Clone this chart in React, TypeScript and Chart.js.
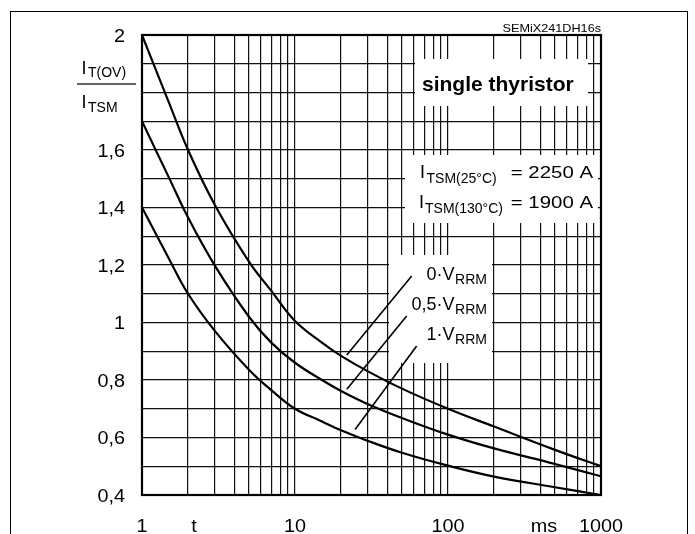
import React, { useEffect, useRef } from 'react';
import { Chart, registerables } from 'chart.js';

Chart.register(...registerables);

// ---- data (t in ms, ratio I_T(OV)/I_TSM) ----
const timeMs = [1, 1.5, 2, 3, 5, 7, 10, 15, 20, 30, 50, 100, 200, 500, 1000];
const ratio0V = [2.0, 1.765, 1.6, 1.408, 1.212, 1.11, 1.005, 0.93, 0.884, 0.83, 0.77, 0.70, 0.638, 0.557, 0.5];
const ratio05V = [1.7, 1.504, 1.365, 1.197, 1.02, 0.93, 0.86, 0.8, 0.762, 0.716, 0.668, 0.61, 0.562, 0.508, 0.465];
const ratio1V = [1.4, 1.222, 1.1, 0.97, 0.836, 0.765, 0.7, 0.656, 0.625, 0.588, 0.547, 0.502, 0.464, 0.427, 0.4];

// leader lines from labels to curves (t, ratio)
const leader0T = [21.8, 57.9];
const leader0V = [0.887, 1.162];
const leader05T = [21.8, 53.7];
const leader05V = [0.768, 1.023];
const leader1T = [24.7, 62.4];
const leader1V = [0.628, 0.918];

// ---- axes ----
const xGridValues = [1, 2, 3, 4, 5, 6, 7, 8, 9, 10, 20, 30, 40, 50, 60, 70, 80, 90, 100, 200, 300, 400, 500, 600, 700, 800, 900, 1000];
const yGridValues = [0.4, 0.5, 0.6, 0.7, 0.8, 0.9, 1.0, 1.1, 1.2, 1.3, 1.4, 1.5, 1.6, 1.7, 1.8, 1.9, 2.0];
const xTickValues = [1, 10, 100, 1000];
const xTickLabels = ['1', '10', '100', '1000'];
const yTickValues = [0.4, 0.6, 0.8, 1.0, 1.2, 1.4, 1.6, 2.0];
const yTickLabels = ['0,4', '0,6', '0,8', '1', '1,2', '1,4', '1,6', '2'];

const FONT = '"Liberation Sans", Arial, Helvetica, sans-serif';

function pts(t: number[], v: number[]) {
  return t.map((x, i) => ({ x, y: v[i] }));
}

function txt(ctx: CanvasRenderingContext2D, s: string, x: number, y: number, size: number, align: CanvasTextAlign = 'left', sx = 1, bold = false) {
  ctx.save();
  ctx.font = `${bold ? 'bold ' : ''}${size}px ${FONT}`;
  ctx.textAlign = align;
  ctx.textBaseline = 'alphabetic';
  ctx.fillStyle = '#000';
  ctx.translate(x, y);
  ctx.scale(sx, 1);
  ctx.fillText(s, 0, 0);
  ctx.restore();
}

function width(ctx: CanvasRenderingContext2D, s: string, size: number) {
  ctx.save();
  ctx.font = `${size}px ${FONT}`;
  const w = ctx.measureText(s).width;
  ctx.restore();
  return w;
}

const decoPlugin = {
  id: 'deco',
  beforeDatasetsDraw(chart: any) {
    const ctx: CanvasRenderingContext2D = chart.ctx;
    ctx.save();
    ctx.fillStyle = '#fff';
    ctx.fillRect(415, 59, 173, 47); // single thyristor
    ctx.fillRect(405, 155, 193, 68); // I_TSM
    ctx.fillRect(389, 255, 103, 108); // V_RRM labels
    ctx.restore();
  },
  afterDraw(chart: any) {
    const ctx: CanvasRenderingContext2D = chart.ctx;
    const xs = chart.scales.x;
    const ys = chart.scales.y;
    const a = chart.chartArea;

    // plot border
    ctx.save();
    ctx.strokeStyle = '#000';
    ctx.lineWidth = 2.2;
    ctx.strokeRect(a.left, a.top, a.right - a.left, a.bottom - a.top);
    ctx.restore();

    // outer frame
    ctx.save();
    ctx.strokeStyle = '#000';
    ctx.lineWidth = 1;
    ctx.strokeRect(10.5, 11.5, 677, 540);
    ctx.restore();

    // y tick labels
    yTickValues.forEach((v, i) => {
      txt(ctx, yTickLabels[i], 125, ys.getPixelForValue(v) + 6.5, 18, 'right', 1.1);
    });
    // x tick labels
    xTickValues.forEach((v, i) => {
      txt(ctx, xTickLabels[i], xs.getPixelForValue(v), 531.5, 18, 'center', 1.1);
    });
    txt(ctx, 't', xs.getPixelForValue(2.19), 531.5, 18, 'center', 1.1);
    txt(ctx, 'ms', xs.getPixelForValue(424), 531.5, 18, 'center', 1.1);

    // y axis title as fraction
    txt(ctx, 'I', 81.5, 74, 18);
    txt(ctx, 'T(OV)', 88, 77, 14);
    ctx.save();
    ctx.strokeStyle = '#333';
    ctx.lineWidth = 1.5;
    ctx.beginPath();
    ctx.moveTo(77, 84);
    ctx.lineTo(136, 84);
    ctx.stroke();
    ctx.restore();
    txt(ctx, 'I', 81.5, 108.3, 18);
    txt(ctx, 'TSM', 88, 111.7, 14);

    // part number
    txt(ctx, 'SEMiX241DH16s', 601, 32, 11, 'right', 1.15);

    // single thyristor
    txt(ctx, 'single thyristor', 422, 91, 21, 'left', 1, true);

    // I_TSM values
    txt(ctx, 'I', 420, 178.3, 18);
    txt(ctx, 'TSM(25°C)', 426.5, 182.5, 14);
    txt(ctx, '= 2250 A', 593, 178.3, 17, 'right', 1.2);
    txt(ctx, 'I', 419, 208.3, 18);
    txt(ctx, 'TSM(130°C)', 425, 212.5, 14);
    txt(ctx, '= 1900 A', 593, 208.3, 17, 'right', 1.2);

    // V_RRM labels (right aligned at 487)
    const labs = [
      ['0·V', 280],
      ['0,5·V', 310],
      ['1·V', 340],
    ] as [string, number][];
    labs.forEach(([s, y]) => {
      const wSub = width(ctx, 'RRM', 14);
      const right = 487;
      txt(ctx, 'RRM', right, y + 3.5, 14, 'right');
      txt(ctx, s, right - wSub - 0.5, y, 18, 'right');
    });
  },
};

export default function App() {
  const ref = useRef<HTMLCanvasElement>(null);

  useEffect(() => {
    const curveStyle = {
      showLine: true,
      borderColor: '#000',
      borderWidth: 2.2,
      pointRadius: 0,
      fill: false,
      tension: 0.4,
    };
    const leaderStyle = {
      showLine: true,
      borderColor: '#000',
      borderWidth: 1.6,
      pointRadius: 0,
      fill: false,
      tension: 0,
    };
    const chart = new Chart(ref.current!, {
      type: 'scatter',
      data: {
        datasets: [
          { label: '0·VRRM', data: pts(timeMs, ratio0V), ...curveStyle },
          { label: '0,5·VRRM', data: pts(timeMs, ratio05V), ...curveStyle },
          { label: '1·VRRM', data: pts(timeMs, ratio1V), ...curveStyle },
          { label: 'l0', data: pts(leader0T, leader0V), ...leaderStyle },
          { label: 'l05', data: pts(leader05T, leader05V), ...leaderStyle },
          { label: 'l1', data: pts(leader1T, leader1V), ...leaderStyle },
        ],
      },
      options: {
        responsive: false,
        animation: false,
        devicePixelRatio: 1,
        layout: { padding: { left: 0, top: 35, right: 94, bottom: 0 } },
        plugins: { legend: { display: false }, tooltip: { enabled: false } },
        scales: {
          x: {
            type: 'logarithmic',
            min: 1,
            max: 1000,
            afterBuildTicks: (s: any) => {
              s.ticks = xGridValues.map((v) => ({ value: v }));
            },
            afterFit: (s: any) => {
              s.height = 39;
            },
            ticks: { display: false },
            grid: { color: '#111', lineWidth: 1.2, drawTicks: false },
            border: { display: false },
          },
          y: {
            type: 'linear',
            min: 0.4,
            max: 2.0,
            afterBuildTicks: (s: any) => {
              s.ticks = yGridValues.map((v) => ({ value: v }));
            },
            afterFit: (s: any) => {
              s.width = 142;
            },
            ticks: { display: false },
            grid: { color: '#111', lineWidth: 1.2, drawTicks: false },
            border: { display: false },
          },
        },
      },
      plugins: [decoPlugin],
    });
    return () => chart.destroy();
  }, []);

  return (
    <div style={{ position: 'fixed', left: 0, top: 0, width: 695, height: 534, background: '#fff' }}>
      <canvas ref={ref} width={695} height={534} style={{ display: 'block', width: 695, height: 534 }} />
    </div>
  );
}
